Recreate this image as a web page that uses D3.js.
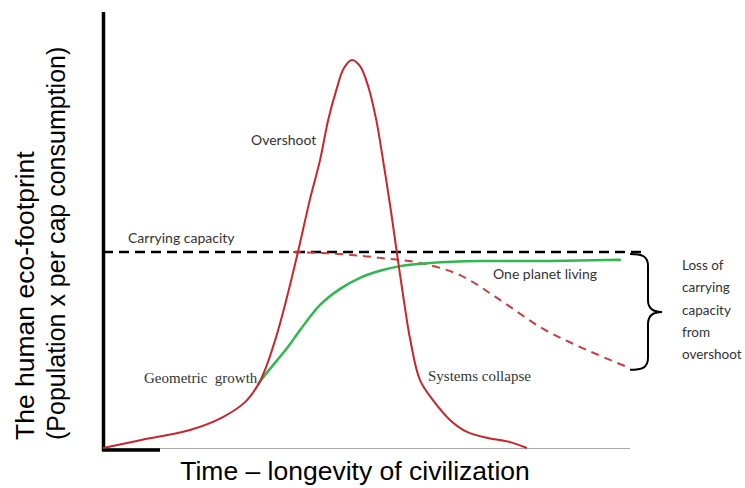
<!DOCTYPE html>
<html><head><meta charset="utf-8">
<script src="https://cdn.jsdelivr.net/npm/d3@7"></script>
<style>body{margin:0;background:#fff}svg{display:block}</style>
</head><body>
<script>
// Data (time 0-100, eco-footprint 0-100)
const overshootTime = [0,6.9,16.1,22.2,26.3,28.7,30.0,31.9,33.7,36.1,38.3,40.2,41.7,43.2,44.6,46.1,47.6,49.1,50.6,52.0,53.3,54.4,55.7,56.9,58.7,61.1,64.3,67.4,71.1,75.4,78.5];
const overshootValue = [0,2.0,4.6,7.9,11.7,16.1,19.9,27.6,36.5,50.0,63.3,73.5,83.7,91.3,96.9,99.0,97.4,92.3,83.7,72.2,60.7,50.0,37.8,27.6,17.3,12.2,7.1,4.1,2.6,1.5,0];
const livingTime = [28.7,30.0,34.1,36.5,40.2,43.9,47.6,51.3,55.0,60.6,69.8,82.8,95.9];
const livingValue = [16.1,18.6,25.5,30.1,36.5,40.6,43.4,45.2,46.4,47.2,47.7,47.7,48.0];
const lossTime = [35.2,43.9,51.3,58.7,66.1,73.5,80.9,88.3,97.0];
const lossValue = [50.0,49.5,48.5,47.2,44.1,37.8,30.9,25.8,20.7];
const capacityTime = [0,100];
const capacityValue = [50,50];
const labels = ["Carrying capacity","Overshoot","Geometric\u00a0\u00a0growth","Systems collapse","One planet living"];
const bracketLines = ["Loss of","carrying","capacity","from","overshoot"];
const xTitle = "Time \u2013 longevity of civilization";
const yTitle = ["The human eco-footprint","(Population x per cap consumption)"];

const W=745,H=488;
const svg=d3.select("body").append("svg").attr("width",W).attr("height",H);
const x=d3.scaleLinear().domain([0,100]).range([103,643]);
const y=d3.scaleLinear().domain([0,100]).range([448,56]);
const line=d3.line().x(d=>x(d[0])).y(d=>y(d[1])).curve(d3.curveCatmullRom.alpha(0.5));
const zip=(a,b)=>a.map((v,i)=>[v,b[i]]);

// baseline gray
svg.append("line").attr("x1",103).attr("x2",630).attr("y1",448.5).attr("y2",448.5).attr("stroke","#aaa").attr("stroke-width",1);
// y axis
svg.append("line").attr("x1",103.5).attr("x2",103.5).attr("y1",12).attr("y2",451).attr("stroke","#000").attr("stroke-width",3.5);
svg.append("line").attr("x1",102).attr("x2",160).attr("y1",450).attr("y2",450).attr("stroke","#000").attr("stroke-width",3.5);

// capacity
svg.append("path").attr("d",line(zip(capacityTime,capacityValue))).attr("fill","none").attr("stroke","#000").attr("stroke-width",2.5).attr("stroke-dasharray","10,6");
// loss dashed
svg.append("path").attr("d",line(zip(lossTime,lossValue))).attr("fill","none").attr("stroke","#d0393b").attr("stroke-width",2).attr("stroke-dasharray","8,6");
// living
svg.append("path").attr("d",line(zip(livingTime,livingValue))).attr("fill","none").attr("stroke","#2fb84f").attr("stroke-width",2.5);
// overshoot
svg.append("path").attr("d",line(zip(overshootTime,overshootValue))).attr("fill","none").attr("stroke","#c9252b").attr("stroke-width",2);

// bracket
const bt=y(50)+2,bb=y(20.7)+3,bm=(bt+bb)/2;
svg.append("path").attr("d",`M630,${bt} C642,${bt} 648,${bt+2} 648,${bt+12} L648,${bm-12} C648,${bm-4} 652,${bm} 662,${bm} C652,${bm} 648,${bm+4} 648,${bm+12} L648,${bb-12} C648,${bb-2} 642,${bb} 630,${bb}`)
 .attr("fill","none").attr("stroke","#000").attr("stroke-width",2);

const sans="Lato, 'Open Sans', sans-serif";
const serif="'Liberation Serif', 'DejaVu Serif', serif";
const t=(s,xx,yy,f,fs,fill)=>svg.append("text").attr("x",xx).attr("y",yy).attr("font-family",f).attr("font-size",fs).attr("fill",fill||"#333").text(s);
t(labels[0],128,243,sans,14);
t(labels[1],251,145,sans,14);
t(labels[2],144,383,serif,15);
t(labels[3],428,381,serif,15);
t(labels[4],493,279,sans,14);
bracketLines.forEach((s,i)=>t(s,682,270+i*22.3,sans,13.5));

svg.append("text").attr("x",355).attr("y",480).attr("text-anchor","middle").attr("font-family","'Liberation Sans', Arial, sans-serif").attr("font-size",26.5).attr("fill","#000").text(xTitle);
svg.append("text").attr("transform","translate(34,440) rotate(-90)").attr("font-family","'Liberation Sans', Arial, sans-serif").attr("font-size",26.5).attr("fill","#000").text(yTitle[0]);
svg.append("text").attr("transform","translate(65,440) rotate(-90)").attr("font-family","'Liberation Sans', Arial, sans-serif").attr("font-size",25).attr("fill","#000").text(yTitle[1]);
</script>
</body></html>
